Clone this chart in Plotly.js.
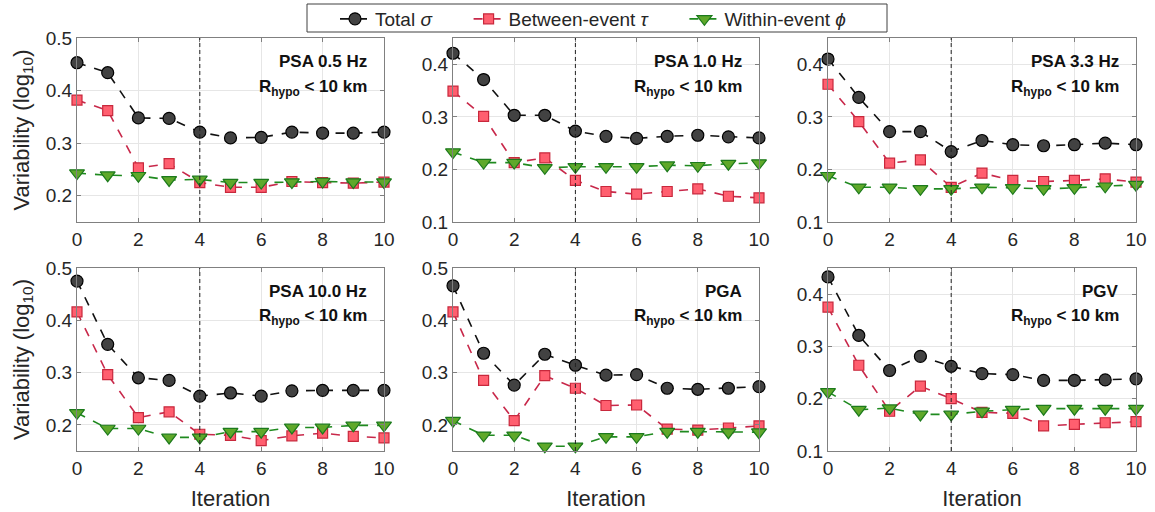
<!DOCTYPE html>
<html>
<head>
<meta charset="utf-8">
<script src="https://cdn.plot.ly/plotly-3.0.1.min.js"></script>
<style>html,body{margin:0;padding:0;background:#fff;}#chart{width:1155px;height:512px;}</style>
</head>
<body>
<div id="chart"></div>
<script>
const iterations = [0,1,2,3,4,5,6,7,8,9,10];
const panelNames = ["PSA 0.5 Hz","PSA 1.0 Hz","PSA 3.3 Hz","PSA 10.0 Hz","PGA","PGV"];
const seriesNames = ["Total <i>σ</i>","Between-event <i>τ</i>","Within-event <i>ϕ</i>"];
const legendPad = ["\u00a0\u00a0\u00a0\u00a0\u00a0\u00a0","\u00a0\u00a0\u00a0\u00a0\u00a0\u00a0",""];
const xTicks = [0,2,4,6,8,10];
const convergedIteration = 4;

const totalPSA05   = [0.453,0.434,0.348,0.347,0.321,0.310,0.311,0.321,0.319,0.319,0.321];
const betweenPSA05 = [0.382,0.362,0.253,0.261,0.225,0.216,0.216,0.227,0.225,0.224,0.226];
const withinPSA05  = [0.243,0.239,0.238,0.230,0.231,0.225,0.225,0.226,0.227,0.226,0.226];

const totalPSA10   = [0.421,0.371,0.303,0.303,0.273,0.263,0.259,0.263,0.265,0.262,0.260];
const betweenPSA10 = [0.349,0.301,0.213,0.222,0.179,0.158,0.153,0.158,0.163,0.149,0.146];
const withinPSA10  = [0.233,0.213,0.213,0.203,0.205,0.205,0.205,0.208,0.207,0.211,0.212];

const totalPSA33   = [0.410,0.337,0.272,0.272,0.234,0.255,0.247,0.245,0.247,0.250,0.247];
const betweenPSA33 = [0.362,0.291,0.212,0.218,0.166,0.193,0.179,0.177,0.179,0.182,0.176];
const withinPSA33  = [0.188,0.166,0.166,0.163,0.163,0.166,0.165,0.163,0.165,0.168,0.171];

const totalPSA100   = [0.475,0.354,0.290,0.285,0.255,0.261,0.255,0.265,0.266,0.266,0.266];
const betweenPSA100 = [0.416,0.296,0.214,0.225,0.182,0.180,0.170,0.179,0.184,0.178,0.175];
const withinPSA100  = [0.223,0.193,0.193,0.176,0.176,0.187,0.187,0.195,0.195,0.199,0.199];

const totalPGA   = [0.466,0.337,0.276,0.335,0.314,0.295,0.296,0.270,0.268,0.270,0.273];
const betweenPGA = [0.416,0.285,0.208,0.294,0.270,0.237,0.238,0.192,0.190,0.194,0.198];
const withinPGA  = [0.208,0.180,0.180,0.159,0.159,0.177,0.177,0.187,0.187,0.186,0.186];

const totalPGV   = [0.433,0.321,0.254,0.281,0.262,0.248,0.246,0.235,0.235,0.236,0.238];
const betweenPGV = [0.375,0.264,0.176,0.224,0.200,0.174,0.172,0.148,0.151,0.154,0.156];
const withinPGV  = [0.213,0.179,0.182,0.170,0.170,0.176,0.179,0.181,0.181,0.181,0.181];

const yRanges = [[0.15,0.5],[0.1,0.45],[0.1,0.45],[0.15,0.5],[0.15,0.5],[0.1,0.45]];
const yTickSets = [[0.2,0.3,0.4,0.5],[0.1,0.2,0.3,0.4],[0.1,0.2,0.3,0.4],[0.2,0.3,0.4,0.5],[0.2,0.3,0.4,0.5],[0.1,0.2,0.3,0.4]];

const panelData = [
  [totalPSA05, betweenPSA05, withinPSA05],
  [totalPSA10, betweenPSA10, withinPSA10],
  [totalPSA33, betweenPSA33, withinPSA33],
  [totalPSA100, betweenPSA100, withinPSA100],
  [totalPGA, betweenPGA, withinPGA],
  [totalPGV, betweenPGV, withinPGV]
];

const W = 1155, H = 512;
const colPx = [[77,384],[453,759],[828,1136]];
const rowPx = [[38,222],[268,451]];

const styles = [
  {line:{color:'#111111',dash:'dash',width:1.6}, marker:{symbol:'circle',size:12,color:'#424242',line:{color:'#000000',width:1.2}}},
  {line:{color:'#c8284a',dash:'dash',width:1.6}, marker:{symbol:'square',size:10,color:'#ff5f6f',line:{color:'#c8283c',width:1.2}}},
  {line:{color:'#1f8a1f',dash:'dash',width:1.6}, marker:{symbol:'triangle-down',size:13,color:'#5fa82a',line:{color:'#1c7a1c',width:1.2}}}
];

const traces = [];
const layout = {
  width: W, height: H,
  margin: {l:0,r:0,t:0,b:0},
  paper_bgcolor:'#ffffff', plot_bgcolor:'#ffffff',
  font: {family:'Arial, "Liberation Sans", sans-serif', color:'#262626', size:19},
  showlegend: true,
  legend: {
    orientation:'h', x:335/W, xanchor:'left', y:1.0, yanchor:'top',
    borderwidth:0, bgcolor:'rgba(0,0,0,0)',
    font:{size:19, color:'#262626'}, itemwidth:30
  },
  shapes: [{
    type:'rect', xref:'paper', yref:'paper', x0:307/W, x1:887/W, y0:1-32/H, y1:1-4/H,
    line:{color:'#404040', width:1}, fillcolor:'rgba(0,0,0,0)', layer:'above'
  }],
  annotations: []
};

for (let p = 0; p < 6; p++) {
  const col = p % 3, row = Math.floor(p / 3);
  const idx = p + 1;
  const xa = 'xaxis' + (idx === 1 ? '' : idx);
  const ya = 'yaxis' + (idx === 1 ? '' : idx);
  const xr = 'x' + (idx === 1 ? '' : idx);
  const yr = 'y' + (idx === 1 ? '' : idx);
  layout[xa] = {
    domain: [colPx[col][0]/W, colPx[col][1]/W],
    anchor: yr, range: [0,10], tickvals: xTicks, ticktext: xTicks.map(String),
    showgrid: true, gridcolor:'#e6e6e6', gridwidth:1,
    zeroline:false, showline:true, linecolor:'#808080', linewidth:1, mirror:'ticks',
    ticks:'inside', ticklen:4, tickcolor:'#808080', tickfont:{size:19,color:'#262626'},
    title: row === 1 ? {text:'Iteration', font:{size:22,color:'#262626'}, standoff:12} : {text:''}
  };
  layout[ya] = {
    domain: [1 - rowPx[row][1]/H, 1 - rowPx[row][0]/H],
    anchor: xr, range: yRanges[p], tickvals: yTickSets[p], ticktext: yTickSets[p].map(v => v.toFixed(1)),
    showgrid: true, gridcolor:'#e6e6e6', gridwidth:1,
    zeroline:false, showline:true, linecolor:'#808080', linewidth:1, mirror:'ticks',
    ticks:'inside', ticklen:4, tickcolor:'#808080', tickfont:{size:19,color:'#262626'},
    title: col === 0 ? {text:'Variability (log<sub>10</sub>)', font:{size:22,color:'#262626'}, standoff:10} : {text:''}
  };
  layout.shapes.push({
    type:'line', xref:xr, yref: yr + ' domain', x0:convergedIteration, x1:convergedIteration, y0:0, y1:1,
    line:{color:'#222222', width:1, dash:'4px,3px'}, layer:'above'
  });
  layout.annotations.push({
    xref: xr + ' domain', yref: yr + ' domain', x:1, xshift:-15, y:0.87, xanchor:'right', yanchor:'middle',
    text:'<b>' + panelNames[p] + '</b>', showarrow:false, font:{size:17,color:'#111111'}
  });
  layout.annotations.push({
    xref: xr + ' domain', yref: yr + ' domain', x:1, xshift:-15, y:0.73, xanchor:'right', yanchor:'middle',
    text:'<b>R<sub>hypo</sub> &lt; 10 km</b>', showarrow:false, font:{size:17,color:'#111111'}
  });
  for (let s = 0; s < 3; s++) {
    traces.push({
      type:'scatter', mode:'lines+markers', x: iterations, y: panelData[p][s],
      xaxis: xr, yaxis: yr, name: seriesNames[s] + legendPad[s], legendgroup: 's'+s, showlegend: p === 0,
      line: styles[s].line, marker: styles[s].marker, cliponaxis:false
    });
  }
}

Plotly.newPlot('chart', traces, layout, {displayModeBar:false, staticPlot:true});
</script>
</body>
</html>
